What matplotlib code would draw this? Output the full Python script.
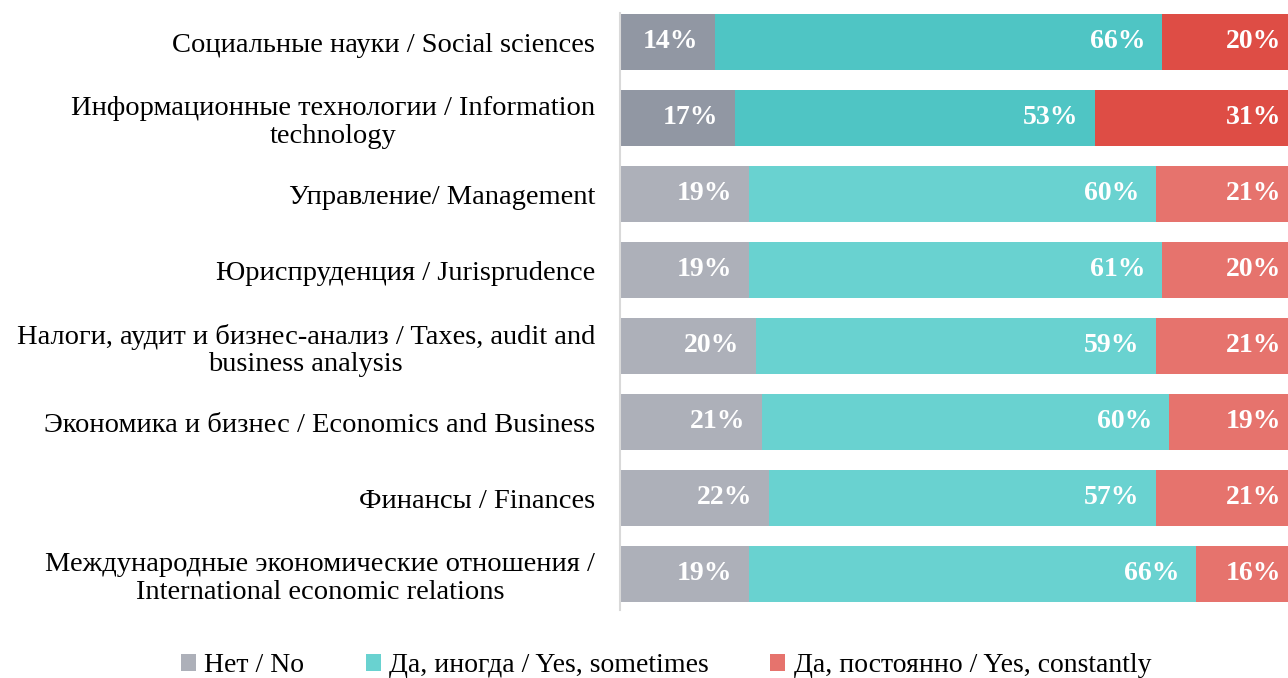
import matplotlib
matplotlib.use("Agg")
import matplotlib.pyplot as plt
from matplotlib.patches import Patch

categories = [
    "Социальные науки / Social sciences",
    "Информационные технологии / Information\ntechnology",
    "Управление/ Management",
    "Юриспруденция / Jurisprudence",
    "Налоги, аудит и бизнес-анализ / Taxes, audit and\nbusiness analysis",
    "Экономика и бизнес / Economics and Business",
    "Финансы / Finances",
    "Международные экономические отношения /\nInternational economic relations",
]
no_vals = [14, 17, 19, 19, 20, 21, 22, 19]
sometimes_vals = [66, 53, 60, 61, 59, 60, 57, 66]
constantly_vals = [20, 31, 21, 20, 21, 19, 21, 16]
series_names = ["Нет / No", "Да, иногда / Yes, sometimes", "Да, постоянно / Yes, constantly"]

dark_colors = ["#9197a3", "#4fc5c4", "#de4d45"]
light_colors = ["#adb0b9", "#69d2d0", "#e6736d"]

plt.rcParams['font.family'] = ['Liberation Serif', 'DejaVu Serif']

fig = plt.figure(figsize=(12.88, 6.78), dpi=100)
W, H = 1288, 678
ax = fig.add_axes([620 / W, 1 - 612 / H, 678 / W, (612 - 4) / H])

y = list(range(len(categories)))
series = [no_vals, sometimes_vals, constantly_vals]
for i in range(len(categories)):
    left = 0
    cols = dark_colors if i < 2 else light_colors
    for s, vals in enumerate(series):
        v = vals[i]
        ax.barh(i, v, left=left, height=0.74, color=cols[s], edgecolor='none')
        xend = min(left + v, 100)
        ax.annotate(f"{v}%", xy=(xend, i), xytext=(-12, 0), textcoords='offset points',
                    ha='right', va='center', color='white', fontsize=20, fontweight='bold')
        left += v

ax.set_xlim(0, 100)
ax.set_ylim(7.5, -0.5)
ax.set_yticks(y)
ax.set_yticklabels(categories, fontsize=20.5, ha='right', multialignment='center',
                   linespacing=1.15)
ax.tick_params(axis='y', length=0, pad=18)
ax.set_xticks([])
for sp in ['top', 'right', 'bottom']:
    ax.spines[sp].set_visible(False)
ax.spines['left'].set_color('#d9d9d9')
ax.spines['left'].set_linewidth(1.5)
ax.spines['left'].set_bounds(7.47, -0.38)

handles = [Patch(facecolor=light_colors[k], edgecolor='none') for k in range(3)]
fig.legend(handles, series_names, loc='center', bbox_to_anchor=(666 / W, 1 - 666 / H),
           ncol=3, frameon=False, fontsize=20, handlelength=0.55, handleheight=0.55,
           handletextpad=0.3, columnspacing=2.2, borderpad=0)

fig.savefig("out.png", dpi=100)
